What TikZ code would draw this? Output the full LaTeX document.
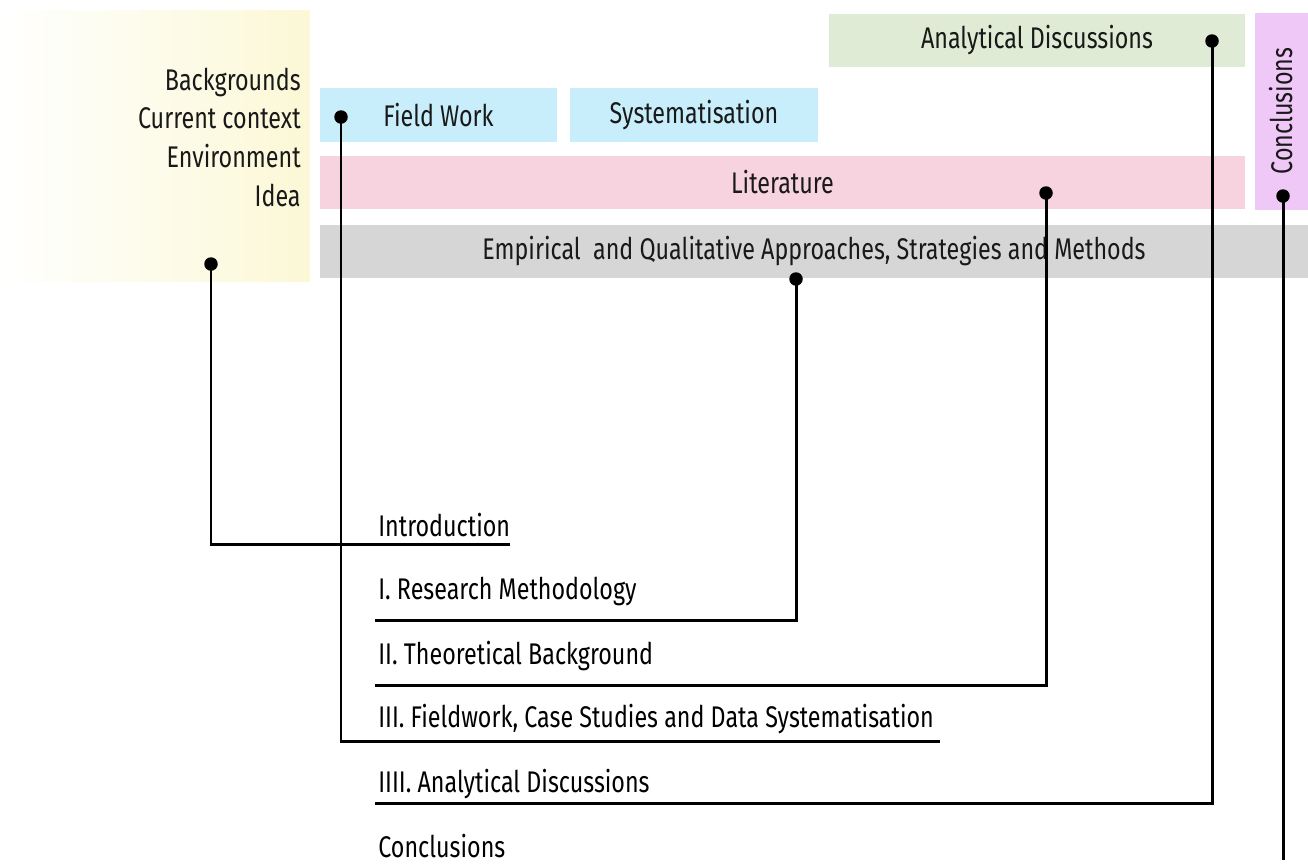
\documentclass[tikz,border=0pt]{standalone}
\usepackage{fontspec}
\setmainfont{Fira Sans}[FakeStretch=0.78]
\usepackage{tikz}
\definecolor{lemon}{RGB}{251, 248, 214}
\definecolor{skyblue}{RGB}{201, 238, 251}
\definecolor{sage}{RGB}{224, 235, 213}
\definecolor{lilac}{RGB}{239, 200, 248}
\definecolor{blush}{RGB}{247, 210, 223}
\definecolor{silver}{RGB}{214, 214, 214}

\begin{document}
\begin{tikzpicture}[x=0.02cm, y=-0.02cm,
        font=\fontsize{17}{22}\selectfont,
        band/.style={inner sep=0, minimum height=1.07cm, text=black!90},
        chapter/.style={anchor=west, inner sep=0},
        dot/.style={circle, fill=black, inner sep=0, minimum size=0.27cm},
        link/.style={line width=1.7pt}]
            \useasboundingbox (0,0) rectangle (1308,863);
            % coloured bands
            \node[band, left color=white, right color=lemon, minimum width=6.2cm, minimum height=5.44cm] (context) at ( 155, 146) {};
            \node[band, fill=skyblue, minimum width=4.74cm]                          (fieldwork) at ( 438.5, 115) {Field Work};
            \node[band, fill=skyblue, minimum width=4.96cm]                          (system)    at ( 694,   115) {Systematisation};
            \node[band, fill=sage,    minimum width=8.32cm]                          (analytic)  at (1037,    40.5) {Analytical Discussions};
            \node[band, fill=blush,   minimum width=18.5cm]                          (literature) at ( 782.5, 182.5) {Literature};
            \node[band, fill=silver,  minimum width=19.76cm]                         (empirical) at ( 814,   251.5) {Empirical\ \ and Qualitative Approaches, Strategies and Methods};
            \node[band, fill=lilac,   minimum width=1.06cm, minimum height=3.94cm]   (conclusion) at (1281.5, 111.5) {};
            \node[rotate=90, inner sep=0, text=black!90]                             (conclabel) at (1281,  111) {Conclusions};
            \node[align=right, anchor=east, inner sep=0, text=black!90]              (ideas)     at ( 301,  137) {Backgrounds\\Current context\\Environment\\Idea};
            % chapters
            \node[chapter] (intro)  at (378, 525) {Introduction};
            \node[chapter] (method) at (378, 591) {I. Research Methodology};
            \node[chapter] (theory) at (378, 656) {II. Theoretical Background};
            \node[chapter] (field)  at (378, 719) {III. Fieldwork, Case Studies and Data Systematisation};
            \node[chapter] (discuss) at (378, 784) {IIII. Analytical Discussions};
            \node[chapter] (concl)  at (378, 846) {Conclusions};
            % dots and line ends
            \node[dot] (d-ideas)    at ( 211, 264) {};
            \node[dot] (d-field)    at ( 341, 117) {};
            \node[dot] (d-emp)      at ( 796, 279) {};
            \node[dot] (d-lit)      at (1046, 193) {};
            \node[dot] (d-anal)     at (1212,  41) {};
            \node[dot] (d-concl)    at (1283, 196) {};
            \coordinate (e-intro)   at ( 510, 544);
            \coordinate (e-method)  at ( 375, 620);
            \coordinate (e-theory)  at ( 375, 685);
            \coordinate (e-field)   at ( 940, 741);
            \coordinate (e-discuss) at ( 375, 803);
            \coordinate (e-concl)   at (1283, 860);
            \draw[link] (d-ideas.center) |- (e-intro);
            \draw[link] (d-field.center) |- (e-field);
            \draw[link] (d-emp.center)   |- (e-method);
            \draw[link] (d-lit.center)   |- (e-theory);
            \draw[link] (d-anal.center)  |- (e-discuss);
            \draw[link] (d-concl.center) -- (e-concl);
        \end{tikzpicture}
\end{document}
